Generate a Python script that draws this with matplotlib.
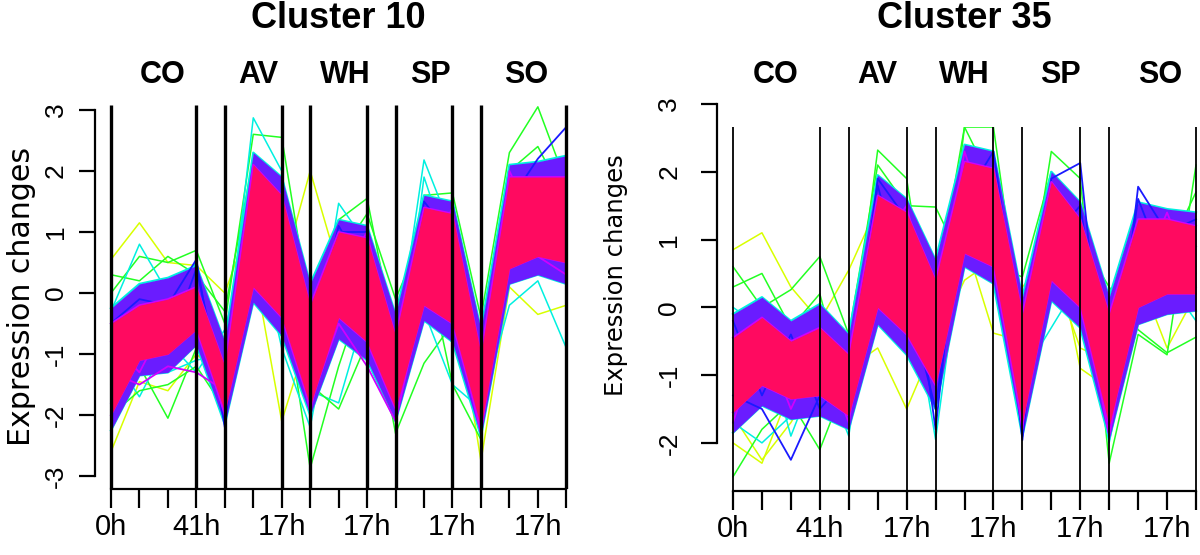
import matplotlib
matplotlib.use("Agg")
import matplotlib.pyplot as plt
from matplotlib.patches import Rectangle
from matplotlib.transforms import blended_transform_factory

plt.rcParams['axes.unicode_minus'] = False

# 17 time points, only every third label is visible in the original
time_idx = list(range(17))
tick_text = ["0h", "", "", "41h", "", "", "17h", "", "", "17h", "", "", "17h", "", "", "17h", ""]
seg_names = ["CO", "AV", "WH", "SP", "SO"]
seg_breaks = [0, 3, 4, 6, 7, 9, 10, 12, 13, 16]

# ---- Cluster 10 ----
# dense red core and its blue fringe (lower / upper edge at each time point)
c10_red_lo = [-2.0, -1.1, -1.0, -0.6, -1.95, 0.1, -0.4, -1.85, -0.4, -0.8, -1.9, -0.2, -0.5, -2.2, 0.4, 0.6, 0.5]
c10_red_hi = [-0.5, -0.2, -0.1, 0.1, -1.2, 2.1, 1.6, -0.2, 1.0, 0.9, -0.7, 1.4, 1.3, -1.0, 1.9, 1.9, 1.9]
c10_halo_lo = [-2.25, -1.35, -1.3, -0.85, -2.15, -0.15, -0.7, -2.0, -0.75, -1.1, -2.1, -0.45, -0.8, -2.35, 0.15, 0.3, 0.15]
c10_halo_hi = [-0.25, 0.15, 0.25, 0.45, -0.8, 2.3, 1.9, 0.15, 1.2, 1.1, -0.35, 1.6, 1.5, -0.6, 2.1, 2.15, 2.25]
# single profiles outside the core
c10_yellow_a = [0.55, 1.15, 0.5, 0.45, 0.0, 1.3, 0.3, 2.0, 0.4, 0.1, -0.4, 0.6, 0.3, -0.6, 0.9, 1.0, 0.8]
c10_yellow_b = [-2.6, -1.45, -1.6, -1.0, -1.4, 0.5, -2.1, -0.6, -0.2, -0.9, -1.5, 0.3, 0.2, -2.75, 0.1, -0.35, -0.2]
c10_green_c = [-1.9, -1.2, -2.05, -0.9, -1.6, 0.6, 0.2, -2.87, -1.2, 0.2, -2.3, -1.15, -0.5, -1.9, 0.3, 0.8, 0.5]
c10_green_d = [0.0, 0.6, 0.5, 0.7, -0.5, 2.6, 2.55, -0.3, 1.2, 1.55, -0.8, 1.6, 1.64, -0.4, 2.3, 3.05, 1.8]
c10_cyan_e = [-0.3, 0.8, 0.0, 0.5, -1.2, 2.87, 2.0, -1.4, 1.47, 0.8, -1.0, 2.18, 1.0, -1.5, 1.5, 2.0, 1.3]
c10_cyan_f = [-1.5, -0.6, -1.3, -1.1, -1.0, 0.0, -0.5, -1.6, -1.8, -0.2, -1.5, -0.3, -1.5, -1.9, -0.2, 0.2, -0.9]
c10_green_h = [-2.0, -1.6, -1.5, -1.2, -1.9, 0.8, 0.6, -1.5, -1.9, -0.8, -1.1, 0.7, -1.5, -2.4, 1.8, 1.4, 1.0]
c10_green_l = [0.3, 0.2, 0.6, 0.3, -0.3, 2.2, 1.1, -1.0, 0.6, 1.3, -0.1, 1.0, 0.8, -1.2, 2.0, 2.4, 1.5]
c10_cyan_m = [-1.0, -1.7, -0.8, -1.3, -0.6, 1.2, -0.9, -2.2, 0.3, -0.6, -1.7, 1.9, 0.5, -0.9, 0.7, 1.2, 2.1]
c10_blue_g = [-0.5, -0.1, -0.2, 0.55, -2.2, 1.8, 1.4, -1.2, 1.0, 1.0, -1.6, 1.2, 1.2, -2.1, 1.5, 2.2, 2.72]
c10_blue_j = [-1.8, -0.5, -0.9, 0.4, -1.7, 1.5, 0.9, -0.9, 1.1, 0.3, -1.9, 1.5, 0.9, -1.7, 1.2, 1.7, 1.2]
c10_purple_k = [-0.8, -1.3, -0.4, -0.5, -2.0, 2.0, 0.2, -1.95, 0.2, 1.0, -1.2, 0.4, 1.4, -2.3, 2.0, 1.0, 0.7]
c10_magenta_i = [-1.3, -1.5, -1.2, -1.3, -1.6, 0.5, -0.3, -1.8, -0.5, -1.2, -2.1, 0.0, -0.3, -2.3, 1.0, 0.6, 0.3]

# ---- Cluster 35 ----
c35_red_lo = [-1.55, -1.15, -1.35, -1.3, -1.6, 0.0, -0.4, -1.15, 0.8, 0.6, -1.7, 0.4, 0.0, -1.75, 0.0, 0.2, 0.2]
c35_red_hi = [-0.45, -0.15, -0.5, -0.3, -0.7, 1.65, 1.4, 0.4, 2.15, 2.05, -0.1, 1.85, 1.3, -0.1, 1.3, 1.3, 1.2]
c35_halo_lo = [-1.85, -1.45, -1.65, -1.6, -1.8, -0.25, -0.7, -1.5, 0.6, 0.35, -1.9, 0.1, -0.3, -1.95, -0.25, -0.1, -0.05]
c35_halo_hi = [-0.1, 0.15, -0.2, 0.05, -0.4, 1.95, 1.6, 0.7, 2.4, 2.3, 0.15, 2.0, 1.55, 0.15, 1.55, 1.45, 1.4]
c35_yellow_a = [0.85, 1.1, 0.3, -0.2, 0.55, 1.5, 0.8, -1.2, 1.6, 1.2, -0.8, 1.2, -0.9, -1.2, 0.8, 0.9, 1.0]
c35_yellow_b = [-2.0, -2.3, -1.2, -1.5, -0.9, -0.6, -1.5, -0.5, 0.4, 0.7, 0.3, 0.8, 0.6, -1.6, 0.5, -0.6, 0.2]
c35_yellow_h = [-1.6, -2.25, -1.7, -1.0, -1.3, 0.3, -0.63, -1.0, 1.0, -0.38, -0.5, 0.6, -0.6, -0.8, 0.2, 0.1, 0.6]
c35_green_c = [-2.5, -1.8, -1.4, -2.1, -1.0, 2.32, 1.9, -0.8, 2.66, 2.66, -0.4, 2.3, 1.9, -2.3, -0.4, -0.7, 2.1]
c35_green_f = [0.6, 0.0, 0.26, 0.75, -0.4, 2.1, 1.5, 1.48, 0.6, 0.6, 0.45, 2.0, 1.0, 0.3, -0.33, -0.67, -0.44]
c35_green_k = [0.3, 0.5, -0.3, 0.2, -1.4, 1.4, 1.0, 0.2, 2.66, 1.8, -1.3, 1.0, 0.9, -0.9, 1.2, 0.8, 1.7]
c35_cyan_e = [0.0, -0.3, -1.9, -0.8, -1.9, 1.0, 0.6, -1.95, 1.2, 1.4, -1.5, 1.5, 1.2, -1.8, 1.1, 1.3, 0.5]
c35_cyan_g = [-1.7, -2.0, -1.6, -1.2, -1.2, 0.5, 0.0, -1.4, 0.7, 0.4, -1.0, -0.3, 0.4, -2.0, 0.2, 0.4, -0.2]
c35_blue_d = [-1.3, -1.5, -2.25, -1.3, -1.6, 1.9, 1.3, -1.8, 2.1, 2.0, -1.96, 1.9, 2.13, -1.9, 1.78, 1.1, 1.3]
c35_blue_i = [-0.2, -1.3, -0.4, -1.5, -1.0, 1.8, 0.2, -1.5, 1.6, 2.3, -0.6, 1.0, 1.5, -1.3, 1.6, 0.5, 0.9]
c35_purple_j = [-1.7, -0.4, -1.5, -0.6, -1.7, 0.9, 1.5, -0.3, 2.3, 1.0, -1.8, 1.7, 0.3, -1.9, 0.4, 1.4, 0.3]

YEL = '#D8FF00'
GRN = '#22FF22'
CYA = '#00F0E0'
BLU = '#1A1AFF'
PUR = '#6A1CFF'
MAG = '#D000FF'
RED = '#FF0A60'

narrow = ['DejaVu Sans Condensed', 'Liberation Sans Narrow', 'Liberation Sans']

fig = plt.figure(figsize=(12, 5.55), dpi=100)


def panel(ax, ylim, top, red, halo, lines, inner, yticks, vline_w, ypad):
    ax.set_xlim(-0.64, 16.64)
    ax.set_ylim(*ylim)
    clip = Rectangle((-1, ylim[0]), 18, top - ylim[0], transform=ax.transData)
    arts = []
    for vals, col in lines:
        arts += ax.plot(time_idx, vals, color=col, lw=1.1, zorder=2)
    arts += ax.plot(time_idx, halo[0], color=CYA, lw=1.6, zorder=2.5)
    arts += ax.plot(time_idx, halo[1], color=CYA, lw=1.6, zorder=2.5)
    arts.append(ax.fill_between(time_idx, halo[0], halo[1], color=PUR, lw=0, zorder=3))
    for vals, col in inner:
        arts += ax.plot(time_idx, vals, color=col, lw=1.3, zorder=3.2)
    arts += ax.plot(time_idx, red[0], color=MAG, lw=1.4, zorder=3.5)
    arts += ax.plot(time_idx, red[1], color=MAG, lw=1.4, zorder=3.5)
    arts.append(ax.fill_between(time_idx, red[0], red[1], color=RED, lw=0, zorder=4))
    arts.append(ax.vlines(seg_breaks, ylim[0], top, color='black', lw=vline_w, zorder=5))
    for a in arts:
        a.set_clip_path(clip)

    for s in ['top', 'right']:
        ax.spines[s].set_visible(False)
    ax.spines['left'].set_position(('data', -0.56))
    ax.spines['left'].set_bounds(yticks[0], yticks[-1])
    ax.spines['bottom'].set_bounds(0, 16)
    for s in ['left', 'bottom']:
        ax.spines[s].set_linewidth(1.6)
    ax.set_yticks(yticks)
    ax.set_yticklabels([str(v) for v in yticks], fontsize=19, family='Liberation Sans')
    ax.set_xticks(time_idx)
    ax.set_xticklabels(tick_text, fontsize=21, family=narrow)
    ax.tick_params(axis='x', length=14, width=1.6, pad=3)
    ax.tick_params(axis='y', length=11.5, width=1.6, pad=ypad, labelrotation=90)
    for t in ax.get_yticklabels():
        t.set_va('center')


ax_l = fig.add_axes([0.0773, 0.1189, 0.4098, 0.6919])
panel(ax_l, (-3.21, 3.08), 3.08, (c10_red_lo, c10_red_hi), (c10_halo_lo, c10_halo_hi),
      [(c10_yellow_a, YEL), (c10_yellow_b, YEL), (c10_green_c, GRN), (c10_green_d, GRN),
       (c10_green_l, GRN), (c10_cyan_e, CYA), (c10_cyan_f, CYA), (c10_cyan_m, CYA),
       (c10_green_h, GRN)],
      [(c10_blue_g, BLU), (c10_blue_j, BLU), (c10_purple_k, MAG), (c10_magenta_i, MAG)],
      [-3, -2, -1, 0, 1, 2, 3], 2.4, 8)

ax_r = fig.add_axes([0.5954, 0.1153, 0.4167, 0.7034])
panel(ax_r, (-2.71, 3.05), 2.66, (c35_red_lo, c35_red_hi), (c35_halo_lo, c35_halo_hi),
      [(c35_yellow_a, YEL), (c35_yellow_b, YEL), (c35_yellow_h, YEL), (c35_green_c, GRN),
       (c35_green_f, GRN), (c35_green_k, GRN), (c35_cyan_e, CYA), (c35_cyan_g, CYA)],
      [(c35_blue_d, BLU), (c35_blue_i, BLU), (c35_purple_j, MAG)],
      [-2, -1, 0, 1, 2, 3], 1.3, 14)

# titles and group names
for ax, title, pos in [(ax_l, "Cluster 10", [1.83, 5.17, 8.23, 11.23, 14.6]),
                       (ax_r, "Cluster 35", [1.49, 5.0, 8.0, 11.3, 14.75])]:
    tr = blended_transform_factory(ax.transData, fig.transFigure)
    ax.text(8, 1 - 18 / 555, title, transform=tr, ha='center', va='center',
            fontsize=26, fontweight='bold', family=narrow)
    for x, name in zip(pos, seg_names):
        ax.text(x, 1 - 75 / 555, name, transform=tr, ha='center', va='center',
                fontsize=22, fontweight='bold', family=narrow)

fig.text(22 / 1200, 1 - 296 / 555, "Expression changes", rotation=90,
         ha='center', va='center', fontsize=21.6, family='DejaVu Sans')
fig.text(616 / 1200, 1 - 275 / 555, "Expression changes", rotation=90,
         ha='center', va='center', fontsize=17.5, family='DejaVu Sans')

fig.savefig("out.png", dpi=100)
